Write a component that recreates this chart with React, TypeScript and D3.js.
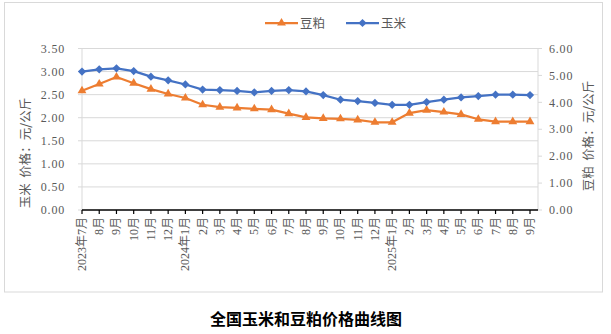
import React from "react";
import * as d3 from "d3";

const monthLabels = [
  "2023年7月", "8月", "9月", "10月", "11月", "12月",
  "2024年1月", "2月", "3月", "4月", "5月", "6月", "7月", "8月", "9月", "10月", "11月", "12月",
  "2025年1月", "2月", "3月", "4月", "5月", "6月", "7月", "8月", "9月",
];

// 玉米 (left axis)
const cornPrices = [
  3.0, 3.05, 3.07, 3.01, 2.89, 2.81, 2.72, 2.61, 2.6, 2.58, 2.55, 2.58, 2.6, 2.57,
  2.49, 2.39, 2.36, 2.32, 2.28, 2.28, 2.34, 2.39, 2.44, 2.47, 2.5, 2.5, 2.49,
];

// 豆粕 (right axis)
const soyPrices = [
  4.43, 4.68, 4.94, 4.71, 4.49, 4.31, 4.16, 3.91, 3.82, 3.79, 3.76, 3.73, 3.58, 3.44,
  3.4, 3.39, 3.35, 3.26, 3.26, 3.6, 3.71, 3.64, 3.55, 3.37, 3.28, 3.28, 3.28,
];

const leftTicks = [0, 0.5, 1, 1.5, 2, 2.5, 3, 3.5];
const rightTicks = [0, 1, 2, 3, 4, 5, 6];

const seriesNames = ["豆粕", "玉米"];
const titleText = "全国玉米和豆粕价格曲线图";
const leftTitle = ["玉米", "价格：元/公斤"];
const rightTitle = ["豆粕", "价格：元/公斤"];

const ORANGE = "#ED7D31";
const BLUE = "#4472C4";
const GRID = "#d9d9d9";
const TXT = "#595959";
const NUM_FONT = "'Liberation Serif', 'Noto Sans CJK SC', serif";
const CJK_FONT = "'Noto Sans CJK SC', sans-serif";

const fmt = d3.format(".2f");

export default function App() {
  const W = 611;
  const H = 334;
  const left = 82;
  const right = 538;
  const top = 48.5;
  const bottom = 210;
  const idx = d3.range(monthLabels.length);

  const x = d3.scalePoint<number>().domain(idx).range([82, 530]);
  const yL = d3.scaleLinear().domain([0, 3.5]).range([bottom, top]);
  const yR = d3.scaleLinear().domain([0, 6]).range([bottom, top]);

  const cornLine = d3
    .line<number>()
    .x((_, i) => x(i) as number)
    .y((d) => yL(d));
  const soyLine = d3
    .line<number>()
    .x((_, i) => x(i) as number)
    .y((d) => yR(d));

  const tri = d3.symbol(d3.symbolTriangle, 34)() as string;
  const dia = d3.symbol(d3.symbolSquare, 34)() as string;

  return (
    <svg
      width={W}
      height={H}
      style={{ position: "fixed", left: 0, top: 0, background: "#fff" }}
    >
      <rect x={0} y={0} width={W} height={H} fill="#fff" />
      <rect x={4.5} y={2.5} width={598} height={289.5} fill="none" stroke={GRID} strokeWidth={1} />

      {/* gridlines */}
      {leftTicks.filter((t) => t > 0).map((t) => (
        <line key={"g" + t} x1={left} x2={right} y1={yL(t)} y2={yL(t)} stroke={GRID} strokeWidth={1} />
      ))}

      {/* left axis */}
      <line x1={left} x2={left} y1={top} y2={bottom} stroke={GRID} strokeWidth={1} />
      {leftTicks.map((t) => (
        <g key={"l" + t}>
          <line x1={left - 4} x2={left} y1={yL(t)} y2={yL(t)} stroke={GRID} strokeWidth={1} />
          <text
            x={65}
            y={yL(t)}
            dy="0.35em"
            textAnchor="end"
            fontSize={12}
            fontFamily={NUM_FONT}
            letterSpacing={0.8}
            fill={TXT}
          >
            {fmt(t)}
          </text>
        </g>
      ))}

      {/* right axis */}
      <line x1={right} x2={right} y1={top} y2={bottom} stroke={GRID} strokeWidth={1} />
      {rightTicks.map((t) => (
        <g key={"r" + t}>
          <line x1={right} x2={right + 4} y1={yR(t)} y2={yR(t)} stroke={GRID} strokeWidth={1} />
          <text
            x={549}
            y={yR(t)}
            dy="0.35em"
            textAnchor="start"
            fontSize={12}
            fontFamily={NUM_FONT}
            letterSpacing={0.8}
            fill={TXT}
          >
            {fmt(t)}
          </text>
        </g>
      ))}

      {/* x axis */}
      <line x1={left} x2={right} y1={bottom} y2={bottom} stroke="#000" strokeWidth={1.5} />
      {idx.map((i) => (
        <g key={"x" + i}>
          <line x1={x(i)} x2={x(i)} y1={bottom} y2={bottom + 4} stroke="#000" strokeWidth={1.2} />
          <text
            transform={`translate(${(x(i) as number) + 4},217) rotate(-90)`}
            textAnchor="end"
            fontSize={12}
            fontFamily={NUM_FONT}
            fill={TXT}
          >
            {monthLabels[i]}
          </text>
        </g>
      ))}

      {/* axis titles */}
      <text
        transform="translate(30,153) rotate(-90)"
        textAnchor="middle"
        fontSize={12.5}
        fontFamily={CJK_FONT}
        fill={TXT}
        style={{ whiteSpace: "pre" }}
      >
        {leftTitle[0] + "  " + leftTitle[1]}
      </text>
      <text
        transform="translate(593,136) rotate(-90)"
        textAnchor="middle"
        fontSize={12.5}
        fontFamily={CJK_FONT}
        fill={TXT}
        style={{ whiteSpace: "pre" }}
      >
        {rightTitle[0] + "  " + rightTitle[1]}
      </text>

      {/* series */}
      <path d={soyLine(soyPrices) as string} fill="none" stroke={ORANGE} strokeWidth={2.25} strokeLinejoin="round" />
      {soyPrices.map((d, i) => (
        <path key={"s" + i} d={tri} transform={`translate(${x(i)},${yR(d)})`} fill={ORANGE} />
      ))}
      <path d={cornLine(cornPrices) as string} fill="none" stroke={BLUE} strokeWidth={2.25} strokeLinejoin="round" />
      {cornPrices.map((d, i) => (
        <path key={"c" + i} d={dia} transform={`translate(${x(i)},${yL(d)}) rotate(45)`} fill={BLUE} />
      ))}

      {/* legend */}
      <g>
        <line x1={265} x2={298} y1={23} y2={23} stroke={ORANGE} strokeWidth={2.25} />
        <path d={tri} transform="translate(281.5,23)" fill={ORANGE} />
        <text x={300} y={23} dy="0.36em" fontSize={12.5} fontFamily={CJK_FONT} fill={TXT}>
          {seriesNames[0]}
        </text>
        <line x1={346} x2={379} y1={23} y2={23} stroke={BLUE} strokeWidth={2.25} />
        <path d={dia} transform="translate(362.5,23) rotate(45)" fill={BLUE} />
        <text x={381} y={23} dy="0.36em" fontSize={12.5} fontFamily={CJK_FONT} fill={TXT}>
          {seriesNames[1]}
        </text>
      </g>

      {/* title */}
      <text
        x={306}
        y={325}
        textAnchor="middle"
        fontSize={16}
        fontWeight="bold"
        fontFamily={CJK_FONT}
        fill="#000"
      >
        {titleText}
      </text>
    </svg>
  );
}
